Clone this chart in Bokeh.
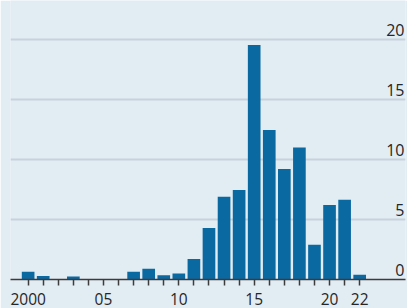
from bokeh.plotting import figure
from bokeh.models import FixedTicker, Range1d, ColumnDataSource
from bokeh.embed import file_html
from bokeh.resources import INLINE
from bokeh.core.properties import value

# ---- data ----
years = list(range(2000, 2023))
values = [0.65, 0.3, 0.0, 0.25, 0.0, 0.0, 0.0, 0.65, 0.9, 0.35, 0.5, 1.7,
          4.3, 6.9, 7.45, 19.55, 12.45, 9.2, 11.0, 2.9, 6.2, 6.65, 0.4]
x_tick_values = [2000, 2005, 2010, 2015, 2020, 2022]
x_tick_labels = ["2000", "05", "10", "15", "20", "22"]
y_tick_values = [0, 5, 10, 15, 20]
y_tick_labels = ["0", "5", "10", "15", "20"]

BG = "#e2ecf3"
BAR = "#0b69a1"
TEXT = "#262626"
FONT = "Open Sans"

x_start, x_end = 1998.83, 2025.04
y_start, y_end = 0, 23.25

p = figure(width=407, height=308, output_backend="svg", toolbar_location=None,
           x_range=Range1d(x_start, x_end), y_range=Range1d(y_start, y_end),
           y_axis_location=None, background_fill_color=BG,
           border_fill_color=BG, outline_line_color=None,
           min_border_left=10, min_border_right=2, min_border_top=0,
           min_border_bottom=29)
p.frame_height = 279
p.frame_width = 395

p.xgrid.visible = False
p.ygrid.ticker = FixedTicker(ticks=y_tick_values[1:])
p.ygrid.grid_line_color = "#c6d2dc"
p.ygrid.grid_line_width = 2

src = ColumnDataSource(dict(x=years, top=values))
p.vbar(x="x", top="top", bottom=0, width=0.84, source=src,
       fill_color=BAR, line_color=None)

ax = p.xaxis[0]
ax.ticker = FixedTicker(ticks=years)
ax.major_label_overrides = {y: (x_tick_labels[x_tick_values.index(y)] if y in x_tick_values else "") for y in years}
ax.axis_line_color = "#3c3c3c"
ax.axis_line_width = 1.5
ax.major_tick_line_color = "#3c3c3c"
ax.major_tick_line_width = 1.5
ax.major_tick_out = 6
ax.major_tick_in = 0
ax.minor_tick_line_color = None
ax.major_label_standoff = 7
ax.major_label_text_font = FONT
ax.major_label_text_font_size = "15.5px"
ax.major_label_text_color = TEXT

lab_src = ColumnDataSource(dict(x=[x_end] * len(y_tick_values), y=y_tick_values, t=y_tick_labels))
p.text(x="x", y="y", text="t", source=lab_src, text_align="right",
       text_baseline="bottom", x_offset=-1, y_offset=-4,
       text_font=value(FONT), text_font_size="16px", text_color=TEXT)

html = file_html(p, INLINE)
html = html.replace("<body>", '<body style="margin:0;background:%s;overflow:hidden">' % BG, 1)
open("out.html", "w").write(html)
